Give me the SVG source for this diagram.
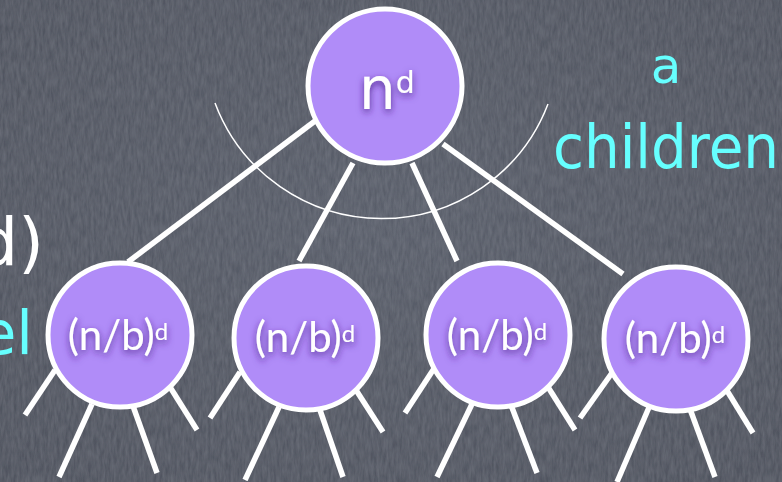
<svg xmlns="http://www.w3.org/2000/svg" width="782" height="482" viewBox="0 0 782 482">
  <defs>
    <filter id="tex" x="0" y="0" width="100%" height="100%">
      <feTurbulence type="fractalNoise" baseFrequency="0.35 0.08" numOctaves="3" seed="5" result="n"/>
      <feColorMatrix in="n" type="matrix" values="0 0 0 0 0.42  0 0 0 0 0.44  0 0 0 0 0.5  0 0 0 0.22 -0.04" result="c"/>
      <feComposite in="c" in2="SourceGraphic" operator="over"/>
    </filter>
    <filter id="glow" x="-30%" y="-30%" width="160%" height="160%">
      <feGaussianBlur in="SourceAlpha" stdDeviation="3.5" result="b"/>
      <feOffset in="b" dx="0" dy="3" result="o"/>
      <feFlood flood-color="#4a1f86" flood-opacity="0.9"/>
      <feComposite in2="o" operator="in" result="s"/>
      <feMerge><feMergeNode in="s"/><feMergeNode in="SourceGraphic"/></feMerge>
    </filter>
    <radialGradient id="bg" cx="50%" cy="45%" r="70%">
      <stop offset="0" stop-color="#595e6a"/>
      <stop offset="1" stop-color="#4f535e"/>
    </radialGradient>
  </defs>
  <style>
    .edge { stroke: #ffffff; stroke-width: 5.5; stroke-linecap: butt; fill: none; }
    .arc { stroke: #ffffff; stroke-width: 1.5; fill: none; }
    .node { fill: #b08cf8; stroke: #ffffff; stroke-width: 5; }
    .lab { fill: #ffffff; font-family: "Lato", "Open Sans", sans-serif; font-size: 42px; text-anchor: middle; filter: url(#glow); }
    .top { fill: #ffffff; font-family: "DejaVu Sans", sans-serif; font-size: 58px; text-anchor: middle; filter: url(#glow); }
    .cyan { fill: #66ffff; font-family: "DejaVu Sans", sans-serif; }
    .white { fill: #ffffff; font-family: "DejaVu Sans", sans-serif; }
  </style>

  <rect x="0" y="0" width="782" height="482" fill="url(#bg)" filter="url(#tex)"/>

  <g id="side-text">
    <text class="white" x="44" y="265" font-size="66" text-anchor="end">d)</text>
    <text class="cyan" x="33" y="354" font-size="60" text-anchor="end">el</text>
    <text class="cyan" x="666" y="83" font-size="50" text-anchor="middle">a</text>
    <text class="cyan" x="553" y="168" font-size="60" textLength="226" lengthAdjust="spacingAndGlyphs">children</text>
  </g>

  <g id="connectors">
    <path class="arc" d="M 215 103 A 178 178 0 0 0 548 104"/>
    <line class="edge" x1="315" y1="121" x2="128" y2="262"/>
    <line class="edge" x1="353" y1="163" x2="299" y2="261"/>
    <line class="edge" x1="412" y1="163" x2="457" y2="261"/>
    <line class="edge" x1="443" y1="144" x2="623" y2="274"/>
    <line class="edge" x1="55" y1="370" x2="25" y2="415"/>
    <line class="edge" x1="92" y1="404" x2="59" y2="477"/>
    <line class="edge" x1="133" y1="406" x2="157" y2="473"/>
    <line class="edge" x1="170" y1="387" x2="197" y2="430"/>
    <line class="edge" x1="240" y1="372" x2="210" y2="418"/>
    <line class="edge" x1="279" y1="407" x2="245" y2="480"/>
    <line class="edge" x1="320" y1="410" x2="343" y2="477"/>
    <line class="edge" x1="356" y1="390" x2="383" y2="432"/>
    <line class="edge" x1="435" y1="367" x2="405" y2="413"/>
    <line class="edge" x1="472" y1="404" x2="437" y2="477"/>
    <line class="edge" x1="511" y1="405" x2="537" y2="473"/>
    <line class="edge" x1="548" y1="387" x2="575" y2="430"/>
    <line class="edge" x1="614" y1="370" x2="580" y2="418"/>
    <line class="edge" x1="650" y1="405" x2="617" y2="482"/>
    <line class="edge" x1="690" y1="409" x2="715" y2="477"/>
    <line class="edge" x1="726" y1="389" x2="753" y2="433"/>
  </g>

  <g id="root">
    <circle class="node" cx="385" cy="86" r="77"/>
    <text class="top" x="387" y="109">n<tspan font-size="30" dy="-16">d</tspan></text>
  </g>
  <g id="child1">
    <circle class="node" cx="120" cy="335" r="72"/>
    <text class="lab" x="118" y="350">(n/b)<tspan font-size="24" dy="-10">d</tspan></text>
  </g>
  <g id="child2">
    <circle class="node" cx="306" cy="338" r="72"/>
    <text class="lab" x="305" y="352">(n/b)<tspan font-size="24" dy="-10">d</tspan></text>
  </g>
  <g id="child3">
    <circle class="node" cx="498" cy="335" r="72"/>
    <text class="lab" x="497" y="350">(n/b)<tspan font-size="24" dy="-10">d</tspan></text>
  </g>
  <g id="child4">
    <circle class="node" cx="676" cy="339" r="72"/>
    <text class="lab" x="675" y="353">(n/b)<tspan font-size="24" dy="-10">d</tspan></text>
  </g>
</svg>
